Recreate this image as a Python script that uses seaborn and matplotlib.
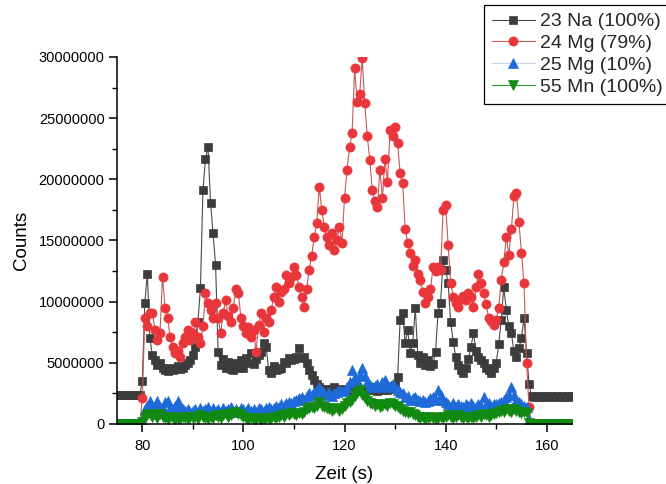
import numpy as np
import matplotlib
matplotlib.use("Agg")
import matplotlib.pyplot as plt
from matplotlib.ticker import MultipleLocator, FuncFormatter
import seaborn as sns

# sample times, 0.5 s steps from 75 s to 165 s
zeit = np.arange(75.0, 165.01, 0.5)

# counts in millions
na23 = [
    2.4, 2.4, 2.4, 2.4, 2.4, 2.4, 2.4, 2.4, 2.4, 2.4,
    3.5, 9.9, 12.3, 7.0, 5.6, 5.2, 4.8, 5.0, 4.6, 4.4,
    4.3, 4.6, 4.4, 4.5, 4.7, 4.5, 4.6, 4.8, 5.0, 5.2,
    5.6, 6.3, 8.3, 11.1, 19.1, 21.7, 22.6, 18.1, 15.6, 13.0,
    5.9, 4.8, 5.3, 4.6, 5.1, 4.5, 4.4, 5.0, 4.6, 5.2,
    4.6, 5.4, 5.0, 5.8, 4.9, 5.3, 5.6, 5.9, 6.6, 6.3,
    4.4, 4.2, 4.7, 4.4, 4.5, 4.6, 5.1, 5.0, 5.4, 5.2,
    5.3, 5.5, 6.2, 5.4, 5.5, 5.0, 4.4, 4.0, 3.6, 3.3,
    3.0, 2.9, 2.8, 2.9, 2.8, 2.9, 3.0, 2.8, 2.9, 2.7,
    2.8, 2.9, 3.0, 2.7, 2.9, 3.0, 2.8, 2.7, 2.9, 2.8,
    2.8, 2.9, 3.0, 2.7, 2.8, 2.9, 3.0, 2.8, 2.9, 3.1,
    3.2, 3.8, 8.5, 9.1, 6.6, 7.7, 5.8, 6.6, 9.5, 5.6,
    5.0, 5.5, 4.8, 5.2, 4.7, 4.9, 5.9, 9.1, 9.9, 13.4,
    12.6, 11.5, 8.3, 6.7, 5.5, 4.8, 4.4, 4.2, 4.6, 5.3,
    6.3, 7.4, 6.0, 5.5, 5.2, 5.0, 4.6, 4.4, 4.2, 4.6,
    5.0, 6.5, 8.5, 11.2, 9.3, 8.0, 7.4, 6.0, 5.5, 6.2,
    7.0, 8.7, 5.8, 3.3, 2.3, 2.2, 2.3, 2.2, 2.3, 2.2,
    2.3, 2.2, 2.3, 2.2, 2.3, 2.2, 2.3, 2.2, 2.3, 2.2,
    2.3,
]

mg24 = [
    0.0, 0.0, 0.0, 0.0, 0.0, 0.0, 0.0, 0.0, 0.0, 0.0,
    2.1, 8.7, 8.0, 9.1, 9.1, 7.7, 6.9, 7.4, 12.0, 9.5,
    8.7, 7.1, 6.3, 5.8, 6.0, 5.5, 6.6, 7.1, 7.7, 6.9,
    7.4, 8.3, 7.1, 6.6, 8.0, 10.7, 9.9, 9.3, 8.7, 9.9,
    8.7, 7.4, 9.1, 10.1, 8.8, 8.3, 9.5, 11.0, 10.7, 8.7,
    8.0, 7.4, 7.9, 7.1, 7.7, 5.9, 8.1, 9.1, 7.5, 8.7,
    8.3, 9.3, 10.4, 11.2, 10.0, 10.8, 11.0, 12.2, 11.5, 12.0,
    12.8, 12.2, 11.2, 10.4, 9.6, 11.0, 12.6, 13.7, 15.3, 16.4,
    19.4, 17.5, 16.1, 15.3, 14.6, 15.6, 14.2, 15.0, 16.1, 14.8,
    18.5, 20.8, 22.6, 23.8, 29.1, 26.3, 27.0, 29.9, 26.2, 23.5,
    21.6, 19.1, 18.2, 17.7, 20.8, 18.5, 21.7, 19.8, 24.0, 23.5,
    24.3, 23.0, 20.5, 19.7, 15.9, 14.8, 14.0, 12.9, 13.4, 12.3,
    11.8, 10.8, 9.9, 10.4, 11.0, 12.8, 12.5, 12.8, 12.6, 17.5,
    17.9, 14.6, 11.5, 10.4, 9.9, 9.6, 10.2, 10.5, 10.1, 10.7,
    10.4, 9.6, 11.2, 12.3, 11.5, 10.7, 9.8, 8.7, 8.4, 8.1,
    8.5, 9.5, 11.8, 13.2, 15.3, 13.8, 15.9, 18.6, 18.9, 16.5,
    14.0, 11.5, 5.0, 1.4, 0.0, 0.0, 0.0, 0.0, 0.0, 0.0,
    0.0, 0.0, 0.0, 0.0, 0.0, 0.0, 0.0, 0.0, 0.0, 0.0,
    0.0,
]

mg25 = [
    0.0, 0.0, 0.0, 0.0, 0.0, 0.0, 0.0, 0.0, 0.0, 0.0,
    0.3, 1.2, 1.5, 1.9, 1.3, 1.5, 1.9, 1.4, 1.3, 1.8,
    1.9, 1.3, 1.2, 1.5, 1.9, 1.4, 1.2, 1.1, 1.2, 1.0,
    1.1, 1.2, 1.0, 1.3, 1.1, 1.2, 1.4, 1.0, 1.3, 1.1,
    1.2, 1.0, 1.3, 1.1, 1.2, 1.4, 1.1, 1.2, 1.0, 1.3,
    1.2, 1.1, 1.3, 1.1, 1.2, 1.0, 1.3, 1.2, 1.1, 1.3,
    1.4, 1.2, 1.3, 1.5, 1.4, 1.6, 1.5, 1.7, 1.8, 1.7,
    1.9, 2.0, 2.1, 2.2, 2.0, 2.3, 2.5, 2.4, 2.6, 2.8,
    3.0, 2.7, 2.5, 2.4, 2.6, 2.3, 2.5, 2.6, 2.8, 2.7,
    2.8, 3.0, 3.4, 4.4, 3.8, 3.6, 4.0, 4.6, 3.9, 3.4,
    3.2, 3.0, 3.1, 3.3, 3.0, 3.4, 3.6, 3.2, 3.0, 3.3,
    3.0, 2.8, 2.6, 2.5, 2.2, 2.3, 2.0, 2.1, 2.2, 2.0,
    1.9, 2.0, 1.8, 1.9, 2.1, 2.2, 2.0, 2.8, 2.4, 2.0,
    1.8, 1.6, 1.5, 1.7, 1.4, 1.6, 1.5, 1.4, 1.6, 1.5,
    1.7, 1.5, 1.4, 1.6, 1.5, 2.2, 1.6, 1.7, 1.5, 1.6,
    1.6, 1.7, 1.8, 2.0, 2.2, 2.4, 3.0, 2.4, 2.0, 1.8,
    1.6, 1.5, 1.4, 0.3, 0.0, 0.0, 0.0, 0.0, 0.0, 0.0,
    0.0, 0.0, 0.0, 0.0, 0.0, 0.0, 0.0, 0.0, 0.0, 0.0,
    0.0,
]

mn55 = [
    0.0, 0.0, 0.0, 0.0, 0.0, 0.0, 0.0, 0.0, 0.0, 0.0,
    0.2, 0.5, 0.7, 0.8, 0.6, 0.7, 0.5, 0.8, 0.6, 0.5,
    0.4, 0.6, 0.5, 0.3, 0.5, 0.4, 0.6, 0.5, 0.4, 0.6,
    0.5, 0.6, 0.4, 0.7, 0.6, 0.5, 0.4, 0.6, 0.5, 0.7,
    0.6, 0.5, 0.7, 0.8, 0.6, 0.7, 0.9, 1.0, 0.8, 0.7,
    0.6, 0.5, 0.4, 0.5, 0.3, 0.4, 0.5, 0.3, 0.4, 0.5,
    0.4, 0.5, 0.6, 0.5, 0.6, 0.7, 0.6, 0.8, 0.7, 0.9,
    0.8, 0.7, 0.9, 0.8, 1.0, 1.2, 1.3, 1.4, 1.3, 1.5,
    1.8, 1.5, 1.4, 1.3, 1.2, 1.1, 1.2, 1.3, 1.1, 1.2,
    1.5, 1.7, 1.8, 2.0, 2.3, 2.5, 2.8, 2.4, 2.1, 1.9,
    1.7, 1.6, 1.5, 1.6, 1.4, 1.5, 1.6, 1.5, 1.7, 1.6,
    1.5, 1.4, 1.2, 1.1, 1.0, 0.9, 1.0, 0.8, 0.7, 0.6,
    0.5, 0.6, 0.4, 0.5, 0.6, 0.5, 0.4, 0.5, 0.6, 0.5,
    0.6, 0.7, 0.6, 0.5, 0.6, 0.7, 0.6, 0.5, 0.6, 0.5,
    0.6, 0.5, 0.6, 0.7, 0.6, 0.8, 0.7, 0.6, 0.7, 0.8,
    0.9, 1.0, 1.1, 1.0, 1.2, 1.1, 1.0, 1.2, 1.1, 1.0,
    0.9, 1.0, 0.9, 0.1, 0.0, 0.0, 0.0, 0.0, 0.0, 0.0,
    0.0, 0.0, 0.0, 0.0, 0.0, 0.0, 0.0, 0.0, 0.0, 0.0,
    0.0,
]

labels = ["23 Na (100%)", "24 Mg (79%)", "25 Mg (10%)", "55 Mn (100%)"]

sns.set_style("ticks")
plt.rcParams["font.family"] = ["Liberation Sans", "DejaVu Sans"]

fig = plt.figure(figsize=(6.66, 4.84), dpi=100)
ax = fig.add_axes([0.1757, 0.124, 0.6832, 0.7583])

# (series, marker, marker colour, line colour, marker size)
styles = [
    (na23, "s", "#3c3c3c", "#4a4a4a", 5.6),
    (mg24, "o", "#e8363a", "#c85858", 6.6),
    (mg25, "^", "#1d6ad8", "#c4d2ec", 7.0),
    (mn55, "v", "#128a12", "#2a9a2a", 7.0),
]

for (vals, mk, mcol, lcol, ms), lab in zip(styles, labels):
    sns.lineplot(
        x=zeit,
        y=np.array(vals) * 1e6,
        ax=ax,
        color=lcol,
        linewidth=0.8,
        marker=mk,
        markersize=ms,
        markerfacecolor=mcol,
        markeredgecolor=mcol,
        markeredgewidth=0.5,
        label=lab,
        errorbar=None,
    )

if ax.get_legend() is not None:
    ax.get_legend().remove()

ax.set_xlim(75, 165)
ax.set_ylim(0, 30000000)
ax.xaxis.set_major_locator(MultipleLocator(20))
ax.xaxis.set_minor_locator(MultipleLocator(10))
ax.yaxis.set_major_locator(MultipleLocator(5000000))
ax.yaxis.set_minor_locator(MultipleLocator(2500000))
ax.yaxis.set_major_formatter(FuncFormatter(lambda v, p: f"{int(round(v))}"))

sns.despine(ax=ax)
for side in ["left", "bottom"]:
    ax.spines[side].set_color("black")
    ax.spines[side].set_linewidth(1.1)

ax.tick_params(which="major", direction="out", length=6, width=1.1,
               color="black", labelcolor="black", labelsize=10.5)
ax.tick_params(which="minor", direction="out", length=3.5, width=1.0, color="black")
ax.tick_params(axis="y", which="major", pad=3)
ax.tick_params(axis="x", which="major", pad=5)

ax.set_xlabel("Zeit (s)", fontsize=13.5, color="black", labelpad=9)
ax.set_ylabel("Counts", fontsize=13.5, color="black", labelpad=6)

handles, labs = ax.get_legend_handles_labels()
leg = fig.legend(
    handles, labs,
    loc="upper left",
    bbox_to_anchor=(484 / 666, 1 - 5 / 484),
    fontsize=14,
    frameon=True,
    fancybox=False,
    framealpha=1,
    edgecolor="black",
    handlelength=2.2,
    handletextpad=0.3,
    labelspacing=0.22,
    borderpad=0.4,
    borderaxespad=0,
    numpoints=1,
)
leg.get_frame().set_linewidth(0.9)

fig.savefig("out.png", dpi=100)
